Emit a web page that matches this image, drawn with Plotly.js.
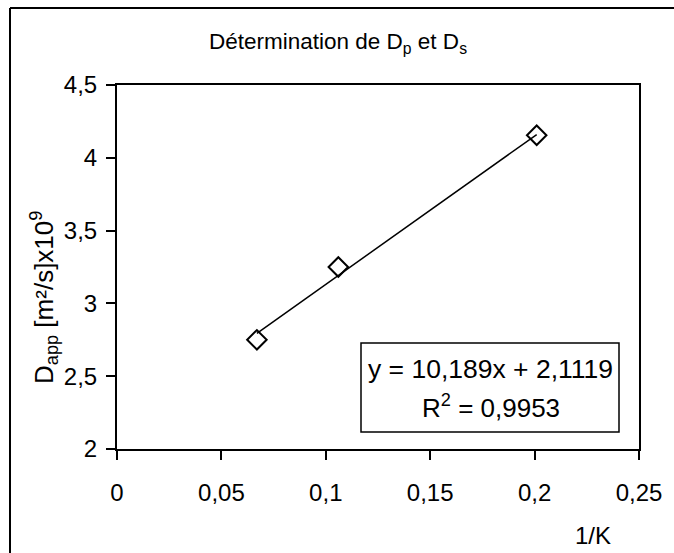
<!DOCTYPE html>
<html>
<head>
<meta charset="utf-8">
<script src="https://cdn.plot.ly/plotly-3.0.1.min.js"></script>
<style>html,body{margin:0;padding:0;background:#fff;}#chart{width:674px;height:553px;}</style>
</head>
<body>
<div id="chart"></div>
<script>
// Data
const invK = [0.067, 0.106, 0.201];
const dApp = [2.75, 3.25, 4.155];
// Linear trendline as reported on the chart
const trendSlope = 10.189;
const trendIntercept = 2.1119;
const trendText = ["y = 10,189x + 2,1119", "R<sup>2</sup> = 0,9953"];
const xTickVals = [0, 0.05, 0.1, 0.15, 0.2, 0.25];
const xTickText = ["0", "0,05", "0,1", "0,15", "0,2", "0,25"];
const yTickVals = [2, 2.5, 3, 3.5, 4, 4.5];
const yTickText = ["2", "2,5", "3", "3,5", "4", "4,5"];

const xMin = Math.min(...invK), xMax = Math.max(...invK);
const trendX = [xMin, xMax];
const trendY = trendX.map(x => trendSlope * x + trendIntercept);

const FONT = "Liberation Sans, Arial, sans-serif";
// plot area in pixels: x 117..639, y 85..449
const L = 117, R = 639, T = 85, B = 449;
const px = x => (x - L) / (R - L);
const py = y => (B - y) / (B - T);

const traces = [
  {x: trendX, y: trendY, mode: "lines", line: {color: "#000", width: 1.5}, hoverinfo: "skip", showlegend: false},
  {x: invK, y: dApp, mode: "markers", marker: {symbol: "diamond-open", size: 15, color: "#000", line: {width: 2, color: "#000"}}, showlegend: false}
];

const layout = {
  width: 674, height: 553,
  margin: {l: L, r: 674 - R, t: T, b: 553 - B, pad: 0},
  paper_bgcolor: "#fff", plot_bgcolor: "#fff",
  font: {family: FONT, color: "#000", size: 23},
  separators: ", ",
  showlegend: false,
  title: {text: "Détermination de D<sub>p</sub> et D<sub>s</sub>", font: {family: FONT, size: 22.5, color: "#000"},
          x: 338 / 674, xanchor: "center", xref: "container", y: 1 - 41 / 553, yanchor: "middle", yref: "container"},
  xaxis: {range: [0, 0.25], tickvals: xTickVals, ticktext: xTickText, showgrid: false, zeroline: false,
          showline: true, linecolor: "#000", linewidth: 2, mirror: true,
          ticks: "outside", ticklen: 9, tickwidth: 2, tickcolor: "#000", ticklabelstandoff: 12,
          tickfont: {family: FONT, size: 24, color: "#000"}},
  yaxis: {range: [2, 4.5], tickvals: yTickVals, ticktext: yTickText, showgrid: false, zeroline: false,
          showline: true, linecolor: "#000", linewidth: 2, mirror: true,
          ticks: "outside", ticklen: 9, tickwidth: 2, tickcolor: "#000", ticklabelstandoff: 4,
          tickfont: {family: FONT, size: 24, color: "#000"}},
  shapes: [
    {type: "line", xref: "paper", yref: "paper", x0: px(10), x1: px(680), y0: py(8), y1: py(8), line: {color: "#000", width: 2}},
    {type: "line", xref: "paper", yref: "paper", x0: px(10), x1: px(10), y0: py(8), y1: py(560), line: {color: "#000", width: 2}},
    {type: "rect", xref: "paper", yref: "paper", x0: px(361), x1: px(619), y0: py(432), y1: py(343), fillcolor: "#fff", line: {color: "#000", width: 1.5}, layer: "above"}
  ],
  annotations: [
    {xref: "paper", yref: "paper", x: px(44), y: py(298), text: "D<sub>app</sub> [m²/s]x10<sup>9</sup>", textangle: -90,
     showarrow: false, xanchor: "center", yanchor: "middle", font: {family: FONT, size: 26, color: "#000"}},
    {xref: "paper", yref: "paper", x: px(593), y: py(535), text: "1/K", showarrow: false, xanchor: "center", yanchor: "middle",
     font: {family: FONT, size: 24, color: "#000"}},
    {xref: "paper", yref: "paper", x: px(490), y: py(369), text: trendText[0], showarrow: false, xanchor: "center", yanchor: "middle",
     font: {family: FONT, size: 26.5, color: "#000"}},
    {xref: "paper", yref: "paper", x: px(491), y: py(406), text: trendText[1], showarrow: false, xanchor: "center", yanchor: "middle",
     font: {family: FONT, size: 26, color: "#000"}}
  ]
};

Plotly.newPlot("chart", traces, layout, {displayModeBar: false, staticPlot: true});
</script>
</body>
</html>
